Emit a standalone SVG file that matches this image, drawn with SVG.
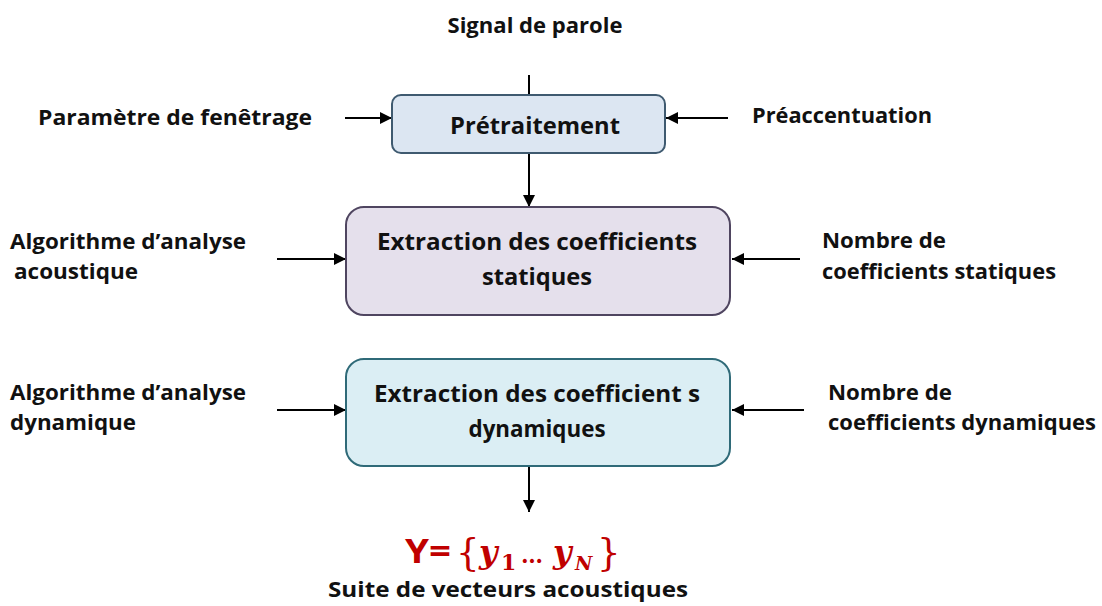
<svg xmlns="http://www.w3.org/2000/svg" width="1102" height="606" viewBox="0 0 1102 606">
  <defs>
    <marker id="arrow" viewBox="0 0 12 12" refX="12" refY="6" markerWidth="12" markerHeight="12" markerUnits="userSpaceOnUse" orient="auto">
      <path d="M0,0 L12,6 L0,12 Z" fill="#000"/>
    </marker>
    <style>
      .lbl { font-family: "Open Sans", "Lato", "Liberation Sans", sans-serif; font-weight: bold; font-size: 22px; fill: #111; }
      .box-t { font-family: "Open Sans", "Lato", "Liberation Sans", sans-serif; font-weight: bold; font-size: 24px; fill: #111; text-anchor: middle; }
      .wire { stroke: #000; stroke-width: 2; fill: none; }
      .math { font-family: "DejaVu Serif", "Liberation Serif", serif; fill: #c00000; }
    </style>
  </defs>

  <rect width="1102" height="606" fill="#fff"/>

  <!-- connectors -->
  <g id="connectors">
    <line class="wire" x1="529" y1="75" x2="529" y2="95"/>
    <line class="wire" x1="345" y1="118" x2="392" y2="118" marker-end="url(#arrow)"/>
    <line class="wire" x1="728" y1="118" x2="666" y2="118" marker-end="url(#arrow)"/>
    <line class="wire" x1="529" y1="153" x2="529" y2="207" marker-end="url(#arrow)"/>
    <line class="wire" x1="277" y1="259" x2="346" y2="259" marker-end="url(#arrow)"/>
    <line class="wire" x1="800" y1="259" x2="732" y2="259" marker-end="url(#arrow)"/>
    <line class="wire" x1="277" y1="410" x2="346" y2="410" marker-end="url(#arrow)"/>
    <line class="wire" x1="804" y1="410" x2="732" y2="410" marker-end="url(#arrow)"/>
    <line class="wire" x1="529" y1="466" x2="529" y2="512" marker-end="url(#arrow)"/>
  </g>

  <!-- input label -->
  <g id="signal">
    <text class="lbl" x="535" y="33" text-anchor="middle" textLength="175" lengthAdjust="spacingAndGlyphs">Signal de parole</text>
  </g>

  <!-- preprocessing block -->
  <g id="pretraitement">
    <rect x="392" y="95" width="273" height="58" rx="9" fill="#dce6f2" stroke="#3f5a70" stroke-width="2"/>
    <text class="box-t" x="535" y="134" textLength="170" lengthAdjust="spacingAndGlyphs">Prétraitement</text>
  </g>
  <g id="fenetrage">
    <text class="lbl" x="38" y="125" textLength="274" lengthAdjust="spacingAndGlyphs">Paramètre de fenêtrage</text>
  </g>
  <g id="preaccentuation">
    <text class="lbl" x="752" y="123" textLength="180" lengthAdjust="spacingAndGlyphs">Préaccentuation</text>
  </g>

  <!-- static coefficients block -->
  <g id="statiques">
    <rect x="346" y="207" width="384" height="108" rx="18" fill="#e5e0ec" stroke="#4f4560" stroke-width="2"/>
    <text class="box-t" x="537" y="250" textLength="320" lengthAdjust="spacingAndGlyphs">Extraction des coefficients</text>
    <text class="box-t" x="537" y="285" textLength="110" lengthAdjust="spacingAndGlyphs">statiques</text>
  </g>
  <g id="algo-acoustique">
    <text class="lbl" x="10" y="249" textLength="236" lengthAdjust="spacingAndGlyphs">Algorithme d’analyse</text>
    <text class="lbl" x="14" y="279" textLength="124" lengthAdjust="spacingAndGlyphs">acoustique</text>
  </g>
  <g id="nb-statiques">
    <text class="lbl" x="822" y="248" textLength="124" lengthAdjust="spacingAndGlyphs">Nombre de</text>
    <text class="lbl" x="822" y="279" textLength="234" lengthAdjust="spacingAndGlyphs">coefficients statiques</text>
  </g>

  <!-- dynamic coefficients block -->
  <g id="dynamiques">
    <rect x="346" y="359" width="384" height="107" rx="18" fill="#dbeef4" stroke="#2f6a78" stroke-width="2"/>
    <text class="box-t" x="537" y="402" textLength="326" lengthAdjust="spacingAndGlyphs">Extraction des coefficient s</text>
    <text class="box-t" x="537" y="437" textLength="137" lengthAdjust="spacingAndGlyphs">dynamiques</text>
  </g>
  <g id="algo-dynamique">
    <text class="lbl" x="10" y="400" textLength="236" lengthAdjust="spacingAndGlyphs">Algorithme d’analyse</text>
    <text class="lbl" x="10" y="430" textLength="126" lengthAdjust="spacingAndGlyphs">dynamique</text>
  </g>
  <g id="nb-dynamiques">
    <text class="lbl" x="828" y="400" textLength="124" lengthAdjust="spacingAndGlyphs">Nombre de</text>
    <text class="lbl" x="828" y="430" textLength="268" lengthAdjust="spacingAndGlyphs">coefficients dynamiques</text>
  </g>

  <!-- output: Y = {y1 ... yN} -->
  <g id="sortie">
    <text x="405" y="563" font-family="'Open Sans', Lato, 'Liberation Sans', sans-serif" font-weight="bold" font-size="34" fill="#c00000" textLength="46" lengthAdjust="spacingAndGlyphs">Y=</text>
    <text class="math" x="456" y="565" font-size="37">{</text>
    <text class="math" x="479" y="563" font-size="32" font-style="italic" font-weight="bold">y</text>
    <text class="math" x="501" y="570" font-size="22" font-weight="bold">1</text>
    <text class="math" x="521" y="563" font-size="22" font-weight="bold" textLength="24" lengthAdjust="spacing">…</text>
    <text class="math" x="553" y="563" font-size="32" font-style="italic" font-weight="bold">y</text>
    <text class="math" x="575" y="570" font-size="19" font-style="italic" font-weight="bold">N</text>
    <text class="math" x="597" y="565" font-size="37">}</text>
    <text class="lbl" x="508" y="597" text-anchor="middle" font-size="24" textLength="360" lengthAdjust="spacingAndGlyphs">Suite de vecteurs acoustiques</text>
  </g>
</svg>
